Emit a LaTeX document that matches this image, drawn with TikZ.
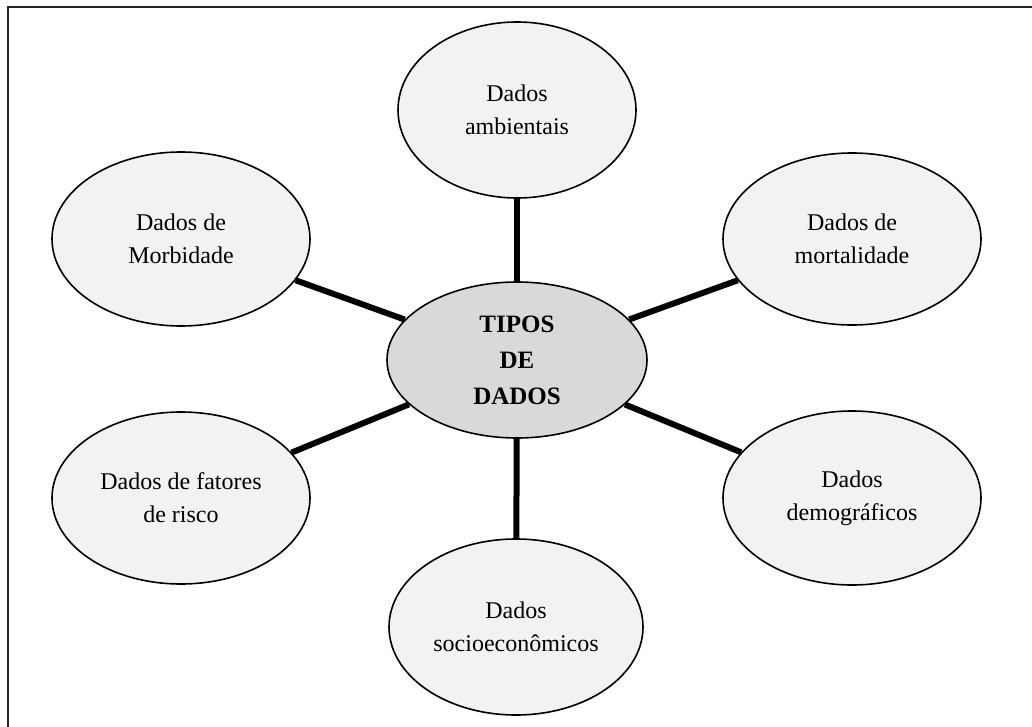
\documentclass[tikz,border=0pt]{standalone}
\usepackage{fontspec}
\setmainfont{Liberation Serif}
\usetikzlibrary{shapes.geometric}

\tikzset{
  bubble/.style={ellipse, draw=black, line width=0.8pt, fill=black!5,
    inner sep=0pt, align=center,
    font=\fontsize{12}{16.5}\selectfont},
  hub/.style={bubble, fill=black!15,
    font=\fontsize{12.5}{18}\selectfont\bfseries},
  spoke/.style={line width=3pt, black},
  frameline/.style={line width=1pt, black!85}
}

\begin{document}
\begin{tikzpicture}[x=0.5pt, y=-0.5pt]
  \useasboundingbox (0,0) rectangle (1032,727);

  % frame (only the top and left sides fall inside the page)
  \draw[frameline] (8,727) -- (8,7) -- (1032,7);

  % central node
  \node[hub, minimum width=130pt, minimum height=78pt] (tipos) at (517,360)
    {TIPOS\\DE\\DADOS};

  % surrounding categories
  \node[bubble, minimum width=119pt, minimum height=88pt] (amb) at (517,110)
    {Dados\\ambientais};
  \node[bubble, minimum width=129pt, minimum height=87pt] (morb) at (181,239)
    {Dados de\\Morbidade};
  \node[bubble, minimum width=129pt, minimum height=86pt] (mort) at (852,239)
    {Dados de\\mortalidade};
  \node[bubble, minimum width=129pt, minimum height=86pt] (risco) at (181,498)
    {Dados de fatores\\de risco};
  \node[bubble, minimum width=129pt, minimum height=87pt] (demo) at (852,498)
    {Dados\\demográficos};
  \node[bubble, minimum width=127pt, minimum height=88pt] (socio) at (516,627)
    {Dados\\socioeconômicos};

  % spokes
  \draw[spoke] (tipos) -- (amb);
  \draw[spoke] (tipos) -- (morb);
  \draw[spoke] (tipos) -- (mort);
  \draw[spoke] (tipos) -- (risco);
  \draw[spoke] (tipos) -- (demo);
  \draw[spoke] (tipos) -- (socio);
\end{tikzpicture}
\end{document}
